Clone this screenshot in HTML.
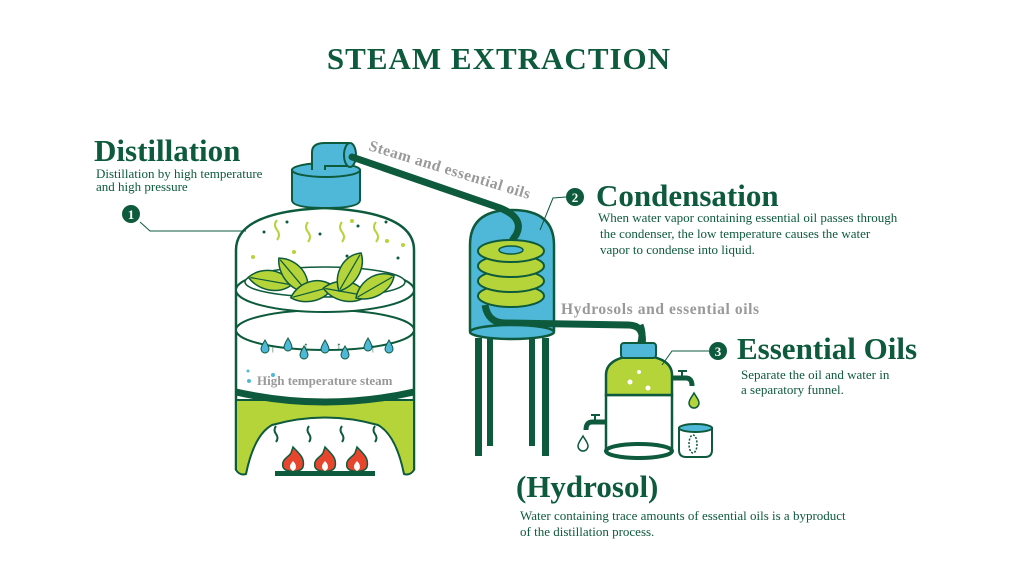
<!DOCTYPE html>
<html><head><meta charset="utf-8"><style>
html,body{margin:0;padding:0;background:#fff;}
svg{display:block;}
text{font-family:"Liberation Serif",serif;}
</style></head><body>
<svg width="1024" height="576" viewBox="0 0 1024 576" xmlns="http://www.w3.org/2000/svg">
<defs>
<g id="leaf"><path d="M-22,0 C-10,-14 12,-14 22,0 C12,12 -10,12 -22,0Z" fill="#b5d43a" stroke="#0d5a3c" stroke-width="1.5"/><path d="M-20,0 L20,0" stroke="#0d5a3c" stroke-width="1.2"/></g>
<g id="drop"><path d="M0,-6 C3,-1 4,1 4,3 A4,4 0 0 1 -4,3 C-4,1 -3,-1 0,-6Z" fill="#4fb8d8" stroke="#0d5a3c" stroke-width="1"/></g>
<g id="flame"><path d="M0,-16 C8,-8 12,-4 10,4 C8,10 -8,10 -10,4 C-12,-4 -4,-6 -2,-10 Z" fill="#e8452f" stroke="#0d5a3c" stroke-width="1.5"/><path d="M0,-2 C4,2 4,6 0,8 C-4,6 -4,2 0,-2Z" fill="#fff"/></g>
</defs>
<text x="499" y="69" font-size="31" font-weight="bold" fill="#0d5a3c" text-anchor="middle" letter-spacing="1">STEAM  EXTRACTION</text>

<!-- left vessel -->
<path d="M236,470 L236,250 Q236,212 324,208 Q414,212 414,250 L414,470" fill="#fff" stroke="#0d5a3c" stroke-width="2.5"/>
<path d="M236,400 L414,400 L414,470 Q410,476 404,474 Q396,435 378,425 Q325,410 272,425 Q254,435 246,474 Q240,476 236,470Z" fill="#b5d43a" stroke="#0d5a3c" stroke-width="2"/>
<path d="M236,392 Q325,412 414,392" fill="none" stroke="#0d5a3c" stroke-width="7"/>
<ellipse cx="325" cy="330" rx="89" ry="20" fill="#fff" stroke="#0d5a3c" stroke-width="2"/>
<ellipse cx="325" cy="290" rx="89" ry="22" fill="#fff" stroke="#0d5a3c" stroke-width="2"/>
<ellipse cx="325" cy="282" rx="80" ry="15" fill="#fff" stroke="#0d5a3c" stroke-width="1.5"/>
<use href="#leaf" transform="translate(270,281) rotate(10)"/>
<use href="#leaf" transform="translate(293,275) rotate(50)"/>
<use href="#leaf" transform="translate(312,292) rotate(-15)"/>
<use href="#leaf" transform="translate(345,292) rotate(10)"/>
<use href="#leaf" transform="translate(350,272) rotate(-60)"/>
<use href="#leaf" transform="translate(375,287) rotate(-30)"/>
<g fill="#0d5a3c" font-size="12" font-family="DejaVu Sans">
<text x="270" y="352">↑</text><text x="303" y="350">↑</text><text x="336" y="350">↑</text><text x="370" y="352">↑</text></g>
<use href="#drop" transform="translate(265,346)"/><use href="#drop" transform="translate(288,344)"/>
<use href="#drop" transform="translate(304,352)"/><use href="#drop" transform="translate(325,346)"/>
<use href="#drop" transform="translate(345,352)"/><use href="#drop" transform="translate(368,344)"/>
<use href="#drop" transform="translate(389,346)"/>
<g fill="none" stroke="#b5d43a" stroke-width="2">
<path d="M277,220 q-4,5 0,10 q4,5 0,10"/><path d="M308,222 q-4,5 0,10 q4,5 0,10"/>
<path d="M342,222 q-4,5 0,10 q4,5 0,10"/><path d="M376,222 q-4,5 0,10 q4,5 0,10"/></g>
<g fill="#0d5a3c"><circle cx="287" cy="222" r="1.5"/><circle cx="264" cy="232" r="1.5"/><circle cx="320" cy="234" r="1.5"/><circle cx="358" cy="226" r="1.5"/><circle cx="386" cy="222" r="1.5"/><circle cx="347" cy="256" r="1.5"/><circle cx="398" cy="258" r="1.5"/></g>
<g fill="#b5d43a"><circle cx="253" cy="257" r="2"/><circle cx="294" cy="252" r="2"/><circle cx="352" cy="221" r="2"/><circle cx="387" cy="241" r="2"/><circle cx="403" cy="245" r="2"/></g>
<g fill="#4fb8d8"><circle cx="248" cy="371" r="1.5"/><circle cx="273" cy="375" r="2"/><circle cx="249" cy="381" r="2"/></g>
<text x="257" y="385" font-size="13" font-weight="bold" fill="#999">High temperature steam</text>
<g fill="none" stroke="#0d5a3c" stroke-width="2">
<path d="M276,426 q-3,4 0,8 q3,4 0,8"/><path d="M309,426 q-3,4 0,8 q3,4 0,8"/><path d="M342,426 q-3,4 0,8 q3,4 0,8"/><path d="M375,426 q-3,4 0,8 q3,4 0,8"/></g>
<use href="#flame" transform="translate(293,463)"/><use href="#flame" transform="translate(325,463)"/><use href="#flame" transform="translate(357,463)"/>
<rect x="275" y="471" width="100" height="5" fill="#0d5a3c"/>
<!-- lid -->
<path d="M292,170 L292,200 Q292,208 326,208 Q360,208 360,200 L360,170Z" fill="#4fb8d8" stroke="#0d5a3c" stroke-width="2"/>
<ellipse cx="326" cy="170" rx="34" ry="7" fill="#4fb8d8" stroke="#0d5a3c" stroke-width="2"/>
<path d="M312,170 L312,152 Q312,143 325,143 L348,143 L348,166 L325,166 L325,170" fill="#4fb8d8" stroke="#0d5a3c" stroke-width="2"/>
<ellipse cx="350" cy="155" rx="6" ry="12" fill="#4fb8d8" stroke="#0d5a3c" stroke-width="2"/>
<text transform="translate(368,150) rotate(17)" font-size="15.5" font-weight="bold" fill="#999" letter-spacing="0.5">Steam and essential oils</text>
<!-- condenser -->
<path d="M470,330 L470,245 Q470,210 512,210 Q554,210 554,245 L554,330Z" fill="#4fb8d8" stroke="#0d5a3c" stroke-width="2.5"/>
<path d="M352,157 L500,208 Q525,218 516,235 Q508,245 511,252" fill="none" stroke="#0d5a3c" stroke-width="7" stroke-linecap="round"/>
<g stroke="#0d5a3c" stroke-width="2" fill="#b5d43a">
<ellipse cx="511" cy="296" rx="33" ry="11"/><ellipse cx="511" cy="281" rx="33" ry="11"/><ellipse cx="511" cy="266" rx="33" ry="11"/><ellipse cx="511" cy="251" rx="33" ry="11"/></g>
<g fill="#4fb8d8" stroke="#0d5a3c" stroke-width="1.5"><ellipse cx="511" cy="250" rx="12" ry="4"/></g>
<path d="M485,305 Q488,323 505,323 L628,325 Q645,325 642,345" fill="none" stroke="#0d5a3c" stroke-width="7"/>
<ellipse cx="512" cy="332" rx="42" ry="7" fill="#4fb8d8" stroke="#0d5a3c" stroke-width="2.5"/>
<g fill="#0d5a3c"><rect x="475" y="338" width="7" height="118"/><rect x="487" y="338" width="6" height="108"/><rect x="529" y="338" width="6" height="108"/><rect x="542" y="338" width="7" height="118"/></g>
<!-- funnel -->
<path d="M606,395 L606,450 L672,450 L672,395Z" fill="#fff" stroke="#0d5a3c" stroke-width="2.5"/>
<path d="M606,395 L606,375 Q606,357 639,355 Q672,357 672,375 L672,395Z" fill="#b5d43a" stroke="#0d5a3c" stroke-width="2.5"/>
<ellipse cx="639" cy="451" rx="33" ry="7" fill="#fff" stroke="#0d5a3c" stroke-width="4"/>
<path d="M640,346 Q644,335 640,325" fill="none" stroke="#0d5a3c" stroke-width="7"/>
<rect x="621" y="343" width="35" height="15" rx="3" fill="#4fb8d8" stroke="#0d5a3c" stroke-width="2"/>
<g fill="#fff"><circle cx="639" cy="372" r="2"/><circle cx="630" cy="382" r="2.5"/><circle cx="648" cy="388" r="2.5"/></g>
<path d="M672,378 L686,378 Q692,378 692,386" fill="none" stroke="#0d5a3c" stroke-width="5"/>
<path d="M682,371 L682,378 M678,371 L687,371" stroke="#0d5a3c" stroke-width="2"/>
<path d="M694,393 C697,398 699,400 699,403 A5,5 0 0 1 689,403 C689,400 691,398 694,393Z" fill="#b5d43a" stroke="#0d5a3c" stroke-width="1.5"/>
<path d="M606,422 L592,422 Q586,422 586,430" fill="none" stroke="#0d5a3c" stroke-width="5"/>
<path d="M595,415 L595,422 M591,415 L600,415" stroke="#0d5a3c" stroke-width="2"/>
<path d="M583,436 C586,441 588,443 588,446 A5,5 0 0 1 578,446 C578,443 580,441 583,436Z" fill="#fff" stroke="#0d5a3c" stroke-width="1.5"/>
<path d="M679,428 L679,450 Q679,457 686,457 L705,457 Q712,457 712,450 L712,428Z" fill="#fff" stroke="#0d5a3c" stroke-width="2"/>
<ellipse cx="695.5" cy="428" rx="16.5" ry="4" fill="#4fb8d8" stroke="#0d5a3c" stroke-width="2"/>
<ellipse cx="693" cy="444" rx="4" ry="9" fill="none" stroke="#0d5a3c" stroke-width="1.5" stroke-dasharray="2 1.5"/>
<!-- labels -->
<text x="94" y="161" font-size="31" font-weight="bold" fill="#0d5a3c">Distillation</text>
<text x="96" y="178" font-size="13" fill="#0d5a3c">Distillation by high temperature</text>
<text x="96" y="191" font-size="13" fill="#0d5a3c">and high pressure</text>
<circle cx="131" cy="214" r="9" fill="#0d5a3c"/><text x="131" y="219" font-size="13" font-weight="bold" fill="#fff" text-anchor="middle" font-family="Liberation Sans,sans-serif">1</text>
<path d="M140,222 L150,231 L246,231" fill="none" stroke="#0d5a3c" stroke-width="1"/>
<circle cx="575" cy="197" r="9" fill="#0d5a3c"/><text x="575" y="202" font-size="13" font-weight="bold" fill="#fff" text-anchor="middle" font-family="Liberation Sans,sans-serif">2</text>
<path d="M566,197 L553,198 L540,230" fill="none" stroke="#0d5a3c" stroke-width="1"/>
<text x="596" y="206" font-size="31" font-weight="bold" fill="#0d5a3c">Condensation</text>
<text x="598" y="222" font-size="13" fill="#0d5a3c">When water vapor containing essential oil passes through</text>
<text x="600" y="238" font-size="13" fill="#0d5a3c">the condenser, the low temperature causes the water</text>
<text x="600" y="254" font-size="13" fill="#0d5a3c">vapor to condense into liquid.</text>
<text x="561" y="314" font-size="15.5" font-weight="bold" fill="#999" letter-spacing="0.6">Hydrosols and essential oils</text>
<circle cx="718" cy="351" r="9" fill="#0d5a3c"/><text x="718" y="356" font-size="13" font-weight="bold" fill="#fff" text-anchor="middle" font-family="Liberation Sans,sans-serif">3</text>
<path d="M709,351 L672,351 L662,365" fill="none" stroke="#0d5a3c" stroke-width="1"/>
<text x="737" y="359" font-size="31" font-weight="bold" fill="#0d5a3c">Essential Oils</text>
<text x="741" y="379" font-size="13" fill="#0d5a3c">Separate the oil and water in</text>
<text x="741" y="394" font-size="13" fill="#0d5a3c">a separatory funnel.</text>
<text x="516" y="497" font-size="31" font-weight="bold" fill="#0d5a3c">(Hydrosol)</text>
<text x="520" y="520" font-size="13" fill="#0d5a3c">Water containing trace amounts of essential oils is a byproduct</text>
<text x="520" y="536" font-size="13" fill="#0d5a3c">of the distillation process.</text>
</svg>
</body></html>
